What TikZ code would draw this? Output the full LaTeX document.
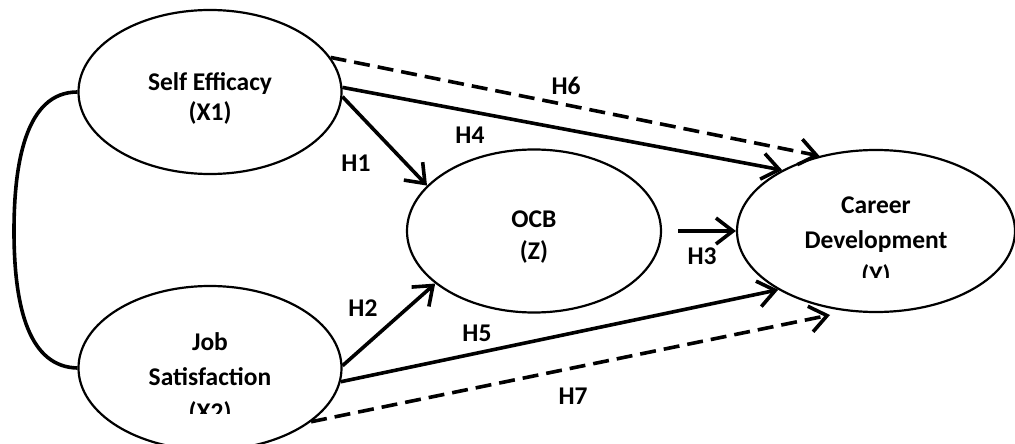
\documentclass[tikz,border=0pt]{standalone}
\usepackage{fontspec}
\setmainfont{Carlito}
\usetikzlibrary{shapes.geometric,arrows.meta}
\begin{document}
\begin{tikzpicture}[x=1pt,y=-1pt,
  latent/.style={draw,ellipse,line width=2.2pt,inner sep=0pt},
  lbl/.style={font=\fontsize{25.5}{30}\selectfont\bfseries,align=center,inner sep=0pt},
  causal/.style={line width=3.6pt,-{Straight Barb[length=17pt,width=26pt,line width=3.6pt]}},
  dashcausal/.style={causal,dash pattern=on 16pt off 8pt}]
\useasboundingbox (0,0) rectangle (1015,444);
% latent variables
\node[latent,minimum width=263pt,minimum height=164pt] (se) at (210,92) {};
\node[latent,minimum width=263pt,minimum height=164pt] (js) at (210,368) {};
\node[latent,minimum width=254pt,minimum height=163pt] (ocb) at (534,231) {};
\node[latent,minimum width=278pt,minimum height=162pt] (cd) at (876,231) {};
% texts
\node[lbl,anchor=base,font=\fontsize{25.5}{29}\selectfont\bfseries] (tse) at (210,120) {Self Efficacy\\(X1)};
\node[lbl,anchor=base,font=\fontsize{25.5}{32}\selectfont\bfseries] (tocb) at (534,259) {OCB\\(Z)};
\begin{scope}
  \clip (700,150) rectangle (1015,277);
  \node[lbl,anchor=base,font=\fontsize{25.5}{35}\selectfont\bfseries] (tcd) at (876,283) {Career\\Development\\(Y)};
\end{scope}
\begin{scope}
  \clip (80,290) rectangle (340,413);
  \node[lbl,anchor=base,font=\fontsize{25.5}{35}\selectfont\bfseries] (tjs) at (210,420) {Job\\Satisfaction\\(X2)};
\end{scope}
% correlation
\draw[line width=3.6pt] (se.west) .. controls (25,92) and (14,165) .. (14,231)
  .. controls (14,310) and (30,367) .. (js.west);
% paths
\draw[causal] (se.-2) -- (ocb.157.5);
\draw[causal] (js.1) -- (ocb.208.7);
\coordinate (h3s) at ([xshift=16pt]ocb.east);
\draw[causal] (h3s) -- (cd.west);
\draw[causal] (se.2) -- (cd.147.9);
\draw[causal] (js.-6.4) -- (cd.211.6);
\draw[dashcausal] (se.16) -- (cd.127.8);
\coordinate (h7e) at (830,315);
\draw[dashcausal] (js.-28.5) -- (h7e);
% labels
\node[lbl] (h1) at (356,163) {H1};
\node[lbl] (h2) at (363,308) {H2};
\node[lbl] (h3) at (702,256) {H3};
\node[lbl] (h4) at (470,135) {H4};
\node[lbl] (h5) at (477,333) {H5};
\node[lbl] (h6) at (566,86) {H6};
\node[lbl] (h7) at (573,396) {H7};
\end{tikzpicture}
\end{document}
